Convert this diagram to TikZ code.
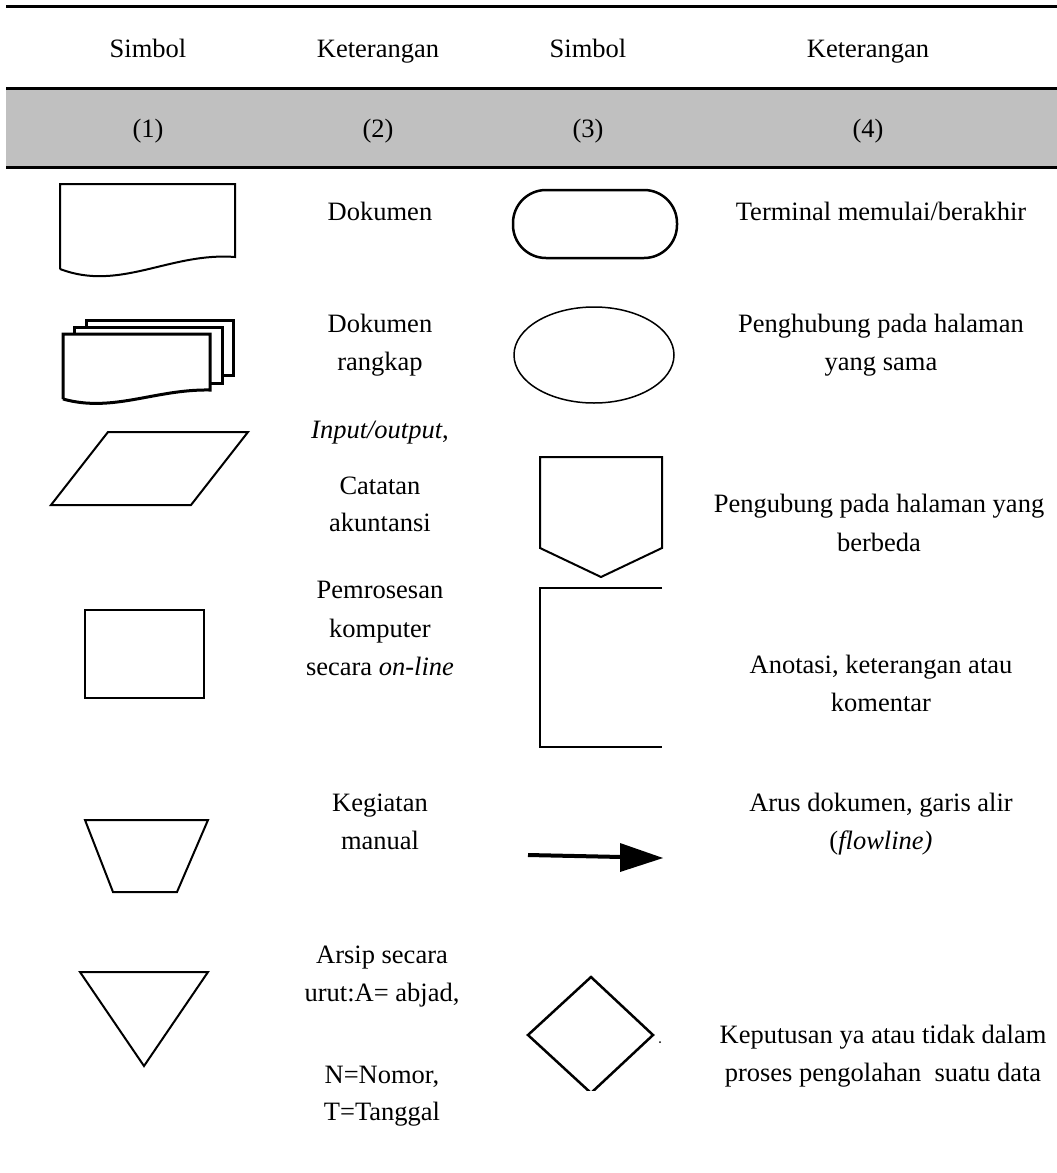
\documentclass[tikz,border=0pt]{standalone}
\usepackage{fontspec}
\setmainfont{Liberation Serif}
\definecolor{bandgray}{RGB}{192,192,192}
\begin{document}
\begin{tikzpicture}[x=1pt,y=-1pt,
  txt/.style={anchor=base, inner sep=0pt, font=\fontsize{26.5}{30}\selectfont},
  sym/.style={draw=black, line width=2pt, line join=miter},
  symthick/.style={draw=black, line width=3pt, line join=miter},
  hrule/.style={line width=3pt},
]
\path[use as bounding box, fill=white] (0,0) rectangle (1057,1173);

% ---- header rules and grey band ----
\fill[bandgray] (6,90) rectangle (1057,166);
\draw[hrule, line width=3.5pt] (6,6.5) -- (1057,6.5);
\draw[hrule] (6,88.5) -- (1057,88.5);
\draw[hrule] (6,167.5) -- (1057,167.5);

\node[txt] (h1) at (148,57) {Simbol};
\node[txt] (h2) at (378,57) {Keterangan};
\node[txt] (h3) at (588,57) {Simbol};
\node[txt] (h4) at (868,57) {Keterangan};

\node[txt] (n1) at (148,137) {(1)};
\node[txt] (n2) at (378,137) {(2)};
\node[txt] (n3) at (588,137) {(3)};
\node[txt] (n4) at (868,137) {(4)};

% ---- column 1 symbols ----
% document
\draw[sym] (60,269) -- (60,184) -- (235,184) -- (235,257)
  .. controls (170,252) and (120,292) .. (60,269);
% multiple documents
\draw[symthick] (86,327) -- (86,320) -- (233,320) -- (233,375) -- (222,375);
\draw[symthick] (74,334) -- (74,327) -- (222,327) -- (222,383) -- (210,383);
\draw[symthick] (63,399) -- (63,334) -- (210,334) -- (210,390)
  .. controls (155,389) and (113,413) .. (63,399);
% input/output
\draw[sym] (51,505) -- (108,432) -- (248,432) -- (191,505) -- cycle;
% on-line processing
\draw[sym] (85,610) rectangle (204,698);
% manual operation
\draw[sym] (85,820) -- (208,820) -- (177,892) -- (113,892) -- cycle;
% file
\draw[sym] (80,972) -- (208,972) -- (144,1066) -- cycle;

% ---- column 2 texts ----
\node[txt] (a1) at (380,220) {Dokumen};
\node[txt] (a2) at (380,332) {Dokumen};
\node[txt] (a3) at (380,370) {rangkap};
\node[txt] (a4) at (380,438) {\textit{Input/output},};
\node[txt] (a5) at (380,494) {Catatan};
\node[txt] (a6) at (380,531) {akuntansi};
\node[txt] (a7) at (380,598) {Pemrosesan};
\node[txt] (a8) at (380,637) {komputer};
\node[txt] (a9) at (380,675) {secara \textit{on-line}};
\node[txt] (a10) at (380,811) {Kegiatan};
\node[txt] (a11) at (380,849) {manual};
\node[txt] (a12) at (382,963) {Arsip secara};
\node[txt] (a13) at (382,1001) {urut:A= abjad,};
\node[txt] (a14) at (382,1083) {N=Nomor,};
\node[txt] (a15) at (382,1120) {T=Tanggal};

% ---- column 3 symbols ----
% terminal
\draw[symthick, line width=2.5pt, rounded corners=33pt] (513,190) rectangle (677,258);
% on-page connector
\draw[sym, line width=1.5pt] (594,355) ellipse [x radius=80, y radius=48];
% off-page connector
\draw[sym] (540,457) -- (662,457) -- (662,548) -- (601,577) -- (540,548) -- cycle;
% annotation
\draw[sym] (662,588) -- (540,588) -- (540,747) -- (662,747);
% flowline
\coordinate (fs) at (528,855);
\coordinate (fe) at (622,857);
\draw[line width=4pt] (fs) -- (fe);
\fill (620,843) -- (663,858) -- (620,872) -- cycle;
% decision (cut at the bottom)
\begin{scope}
  \clip (500,960) rectangle (700,1090);
  \draw[sym, line width=2.5pt] (591,977) -- (653,1035) -- (591,1093) -- (528,1035) -- cycle;
\end{scope}
\fill (660,1042) circle (1);

% ---- column 4 texts ----
\node[txt] (b1) at (881,220) {Terminal memulai/berakhir};
\node[txt] (b2) at (881,332) {Penghubung pada halaman};
\node[txt] (b3) at (881,370) {yang sama};
\node[txt] (b4) at (879,512) {Pengubung pada halaman yang};
\node[txt] (b5) at (879,551) {berbeda};
\node[txt] (b6) at (881,673) {Anotasi, keterangan atau};
\node[txt] (b7) at (881,711) {komentar};
\node[txt] (b8) at (881,811) {Arus dokumen, garis alir};
\node[txt] (b9) at (881,849) {(\textit{flowline)}};
\node[txt] (b10) at (883,1043) {Keputusan ya atau tidak dalam};
\node[txt] (b11) at (883,1081) {proses pengolahan\ \ suatu data};
\end{tikzpicture}
\end{document}
